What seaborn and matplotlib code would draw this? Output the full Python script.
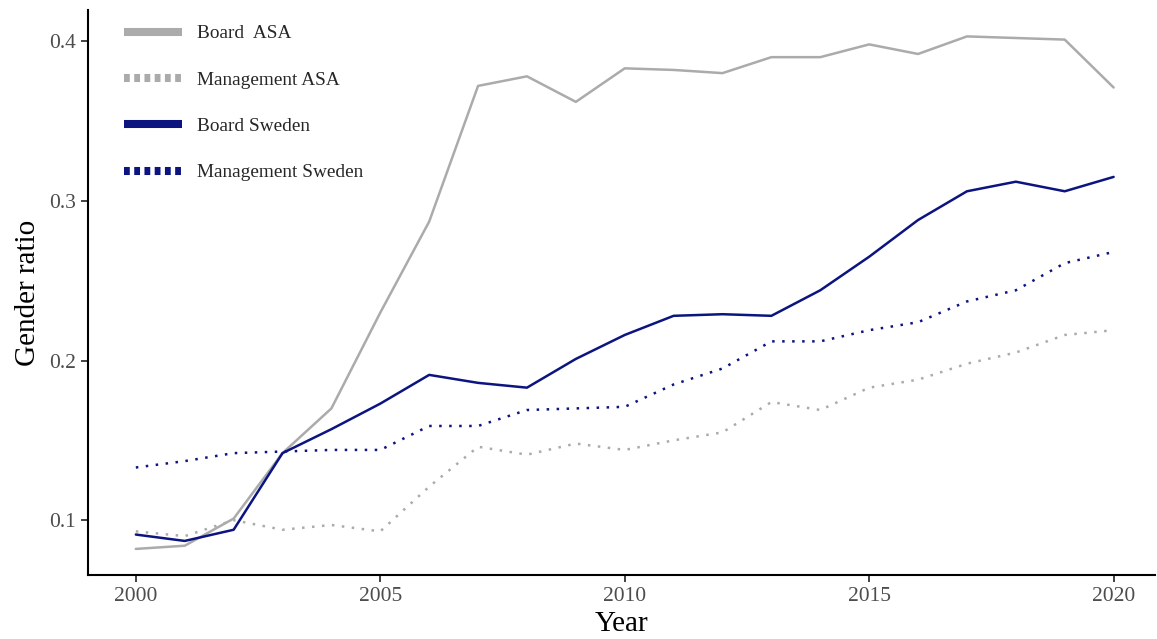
import numpy as np
import pandas as pd
import matplotlib
matplotlib.use("Agg")
import matplotlib.pyplot as plt
from matplotlib.lines import Line2D
import seaborn as sns

years = list(range(2000, 2021))
board_asa = [0.082, 0.084, 0.101, 0.142, 0.170, 0.230, 0.287, 0.372, 0.378, 0.362, 0.383,
             0.382, 0.380, 0.390, 0.390, 0.398, 0.392, 0.403, 0.402, 0.401, 0.371]
management_asa = [0.093, 0.090, 0.100, 0.094, 0.097, 0.093, 0.121, 0.146, 0.141, 0.148, 0.144,
                  0.150, 0.155, 0.174, 0.169, 0.183, 0.188, 0.198, 0.205, 0.216, 0.219]
board_sweden = [0.091, 0.087, 0.094, 0.142, 0.157, 0.173, 0.191, 0.186, 0.183, 0.201, 0.216,
                0.228, 0.229, 0.228, 0.244, 0.265, 0.288, 0.306, 0.312, 0.306, 0.315]
management_sweden = [0.133, 0.137, 0.142, 0.143, 0.144, 0.144, 0.159, 0.159, 0.169, 0.170, 0.171,
                     0.185, 0.195, 0.212, 0.212, 0.219, 0.224, 0.237, 0.244, 0.261, 0.268]

series_names = ["Board  ASA", "Management ASA", "Board Sweden", "Management Sweden"]
series_values = [board_asa, management_asa, board_sweden, management_sweden]
series_colors = ["#ababab", "#ababab", "#0c1480", "#0c1480"]
series_dotted = [False, True, False, True]

df = pd.concat(
    [pd.DataFrame({"Year": years, "ratio": v, "series": n}) for n, v in zip(series_names, series_values)],
    ignore_index=True,
)

sns.set_theme(style="ticks")
plt.rcParams["font.family"] = ["Liberation Serif", "DejaVu Serif"]

fig = plt.figure(figsize=(11.57, 6.39), dpi=100)
ax = fig.add_axes([0.076, 0.100, 0.922, 0.884])

handles = []
for name, color, dotted in zip(series_names, series_colors, series_dotted):
    sub = df[df["series"] == name]
    sns.lineplot(data=sub, x="Year", y="ratio", color=color, linewidth=1.8, ax=ax, legend=False)
    line = ax.lines[-1]
    if dotted:
        line.set_dashes((1, 3))
    h = Line2D([], [], color=color, linewidth=5.8, solid_capstyle="butt", dash_capstyle="butt",
               linestyle=(0, (0.72, 0.55)) if dotted else "-")
    handles.append(h)

ax.set_xlim(1999.02, 2020.84)
ax.set_ylim(0.0656, 0.4194)
ax.set_xticks([2000, 2005, 2010, 2015, 2020])
ax.set_yticks([0.1, 0.2, 0.3, 0.4])
ax.set_yticklabels(["0.1", "0.2", "0.3", "0.4"])
ax.tick_params(axis="both", labelsize=15.5, labelcolor="#4d4d4d", color="#222222",
               length=5, width=1.2, direction="out")
ax.set_xlabel("Year", fontsize=21, color="black", labelpad=4)
ax.set_ylabel("Gender ratio", fontsize=21, color="black", labelpad=6)

for side in ["top", "right"]:
    ax.spines[side].set_visible(False)
for side in ["left", "bottom"]:
    ax.spines[side].set_linewidth(1.5)
    ax.spines[side].set_color("black")

leg = ax.legend(handles, series_names, loc="upper left", bbox_to_anchor=(0.0337, 0.974),
                frameon=False, fontsize=13.9, handlelength=3.0, handletextpad=0.78,
                labelspacing=1.49, borderaxespad=0.0, borderpad=0.0)

fig.savefig("out.png", dpi=100)
